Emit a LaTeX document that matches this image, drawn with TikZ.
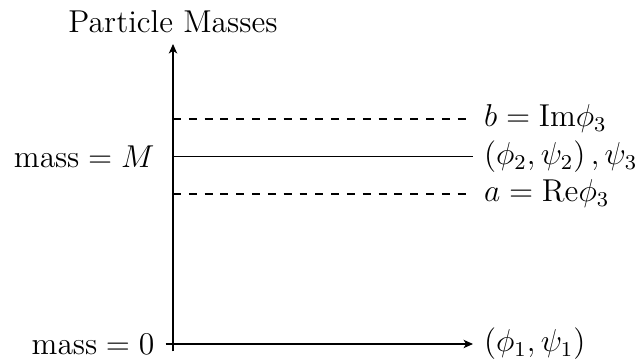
\documentclass[12pt,tikz,border=0pt]{standalone}
\usepackage{amsmath}
\usepackage{tikz}
\usetikzlibrary{arrows.meta}

\begin{document}
\begin{tikzpicture}[
    axisline/.style={-{Stealth[length=3.6pt,width=3.2pt,inset=1pt]}},
    levelline/.style={line width=0.4pt}
  ]
  \useasboundingbox (-2.307,-0.227) rectangle (6.227,4.587);
  % axes
  \coordinate (ybot)   at (0,-0.1);
  \coordinate (ytop)   at (0,4);
  \coordinate (xleft)  at (-0.1,0);
  \coordinate (xright) at (4,0);
  \draw[axisline] (ybot) -- (ytop);
  \draw[axisline] (xleft) -- (xright);
  \node[above] (title) at (ytop) {Particle Masses};
  \node[left]  (zeroLabel) at (xleft) {$\mathrm{mass}=0$};
  \node[right] (lightLabel) at (xright) {$(\phi_1,\psi_1)$};
  % mass levels
  \foreach \y/\nm/\sty/\txt in {3/imLevel/dashed/{$b=\mathrm{Im}\phi_3$},
                                2.5/heavyLevel/solid/{$\left(\phi_2,\psi_2\right),\psi_3$},
                                2/reLevel/dashed/{$a=\mathrm{Re}\phi_3$}} {
    \coordinate (\nm-start) at (0,\y);
    \node[right] (\nm) at (4,\y) {\txt};
    \draw[levelline,\sty] (\nm-start) -- (\nm.west);
  }
  \node[left] (massLabel) at (-0.1,2.5) {$\mathrm{mass}=M$};
\end{tikzpicture}
\end{document}
